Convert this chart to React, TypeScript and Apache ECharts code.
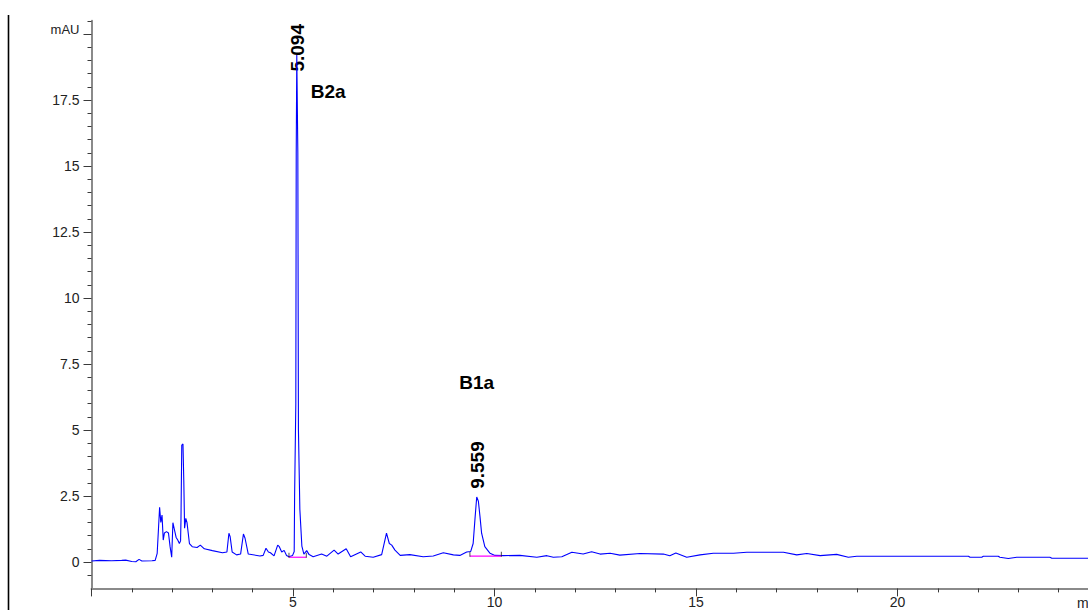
import React, { useEffect, useRef } from "react";
import * as echarts from "echarts";

// Retention time (min) and detector signal (mAU)
const times = [
  0.0, 0.2, 0.5, 0.75, 0.85, 1.0, 1.1, 1.18, 1.25, 1.5, 1.58, 1.63, 1.66, 1.69, 1.72, 1.75, 1.78, 1.81, 1.86, 1.91,
  1.95, 1.99, 2.02, 2.06, 2.1, 2.14, 2.18, 2.21, 2.22, 2.24, 2.27, 2.29, 2.31, 2.34, 2.37, 2.4, 2.43, 2.5, 2.62, 2.7,
  2.8, 3.0, 3.25, 3.36, 3.41, 3.44, 3.49, 3.6, 3.7, 3.77, 3.81, 3.89, 4.18, 4.26, 4.33, 4.39, 4.44, 4.53, 4.62, 4.66,
  4.72, 4.78, 4.84, 4.9, 4.99, 5.03, 5.04, 5.07, 5.08, 5.094, 5.12, 5.135, 5.17, 5.22, 5.27, 5.34, 5.4, 5.5, 5.71, 5.84,
  6.02, 6.12, 6.32, 6.43, 6.68, 6.79, 6.99, 7.2, 7.32, 7.39, 7.45, 7.53, 7.66, 7.9, 8.23, 8.48, 8.73, 8.98, 9.14, 9.31,
  9.41, 9.47, 9.52, 9.559, 9.6, 9.64, 9.68, 9.76, 9.89, 10.01, 10.22, 10.63, 11.05, 11.3, 11.46, 11.67, 11.92, 12.2, 12.41, 12.62,
  12.87, 13.11, 13.61, 14.19, 14.35, 14.5, 14.77, 15.1, 15.43, 15.93, 16.26, 17.17, 17.5, 17.75, 18.08, 18.49, 18.78, 18.99, 21.76, 21.8,
  22.09, 22.13, 22.5, 22.54, 22.75, 22.96, 23.78, 23.83, 25.0,
];
const signal = [
  0.04, 0.06, 0.05, 0.06, 0.07, 0.02, 0.01, 0.1, 0.04, 0.05, 0.06, 0.33, 1.2, 2.07, 1.5, 1.78, 0.83, 1.1, 1.15, 1.1,
  0.58, 0.18, 1.49, 1.21, 0.93, 0.83, 0.7, 0.8, 1.57, 4.43, 4.47, 3.1, 1.28, 1.65, 1.49, 1.1, 0.7, 0.58, 0.55, 0.64,
  0.5, 0.43, 0.35, 0.38, 1.09, 0.96, 0.38, 0.27, 0.3, 1.06, 0.9, 0.3, 0.23, 0.25, 0.52, 0.38, 0.35, 0.23, 0.64, 0.58,
  0.38, 0.44, 0.25, 0.2, 0.25, 0.4, 2.5, 6.0, 15.5, 19.2, 15.5, 5.0, 2.0, 0.6, 0.3, 0.43, 0.28, 0.2, 0.3, 0.22,
  0.45, 0.3, 0.5, 0.2, 0.38, 0.22, 0.18, 0.28, 1.09, 0.7, 0.64, 0.45, 0.25, 0.28, 0.2, 0.23, 0.35, 0.27, 0.25, 0.38,
  0.4, 0.7, 1.72, 2.46, 2.3, 1.72, 1.09, 0.58, 0.33, 0.25, 0.24, 0.25, 0.18, 0.24, 0.18, 0.2, 0.37, 0.3, 0.39, 0.3,
  0.33, 0.26, 0.32, 0.3, 0.24, 0.34, 0.18, 0.27, 0.33, 0.33, 0.37, 0.37, 0.27, 0.32, 0.24, 0.29, 0.18, 0.22, 0.22, 0.18,
  0.18, 0.22, 0.22, 0.18, 0.13, 0.18, 0.18, 0.14, 0.14,
];

// Identified peaks
const peakTimes = [5.094, 9.559];
const peakHeights = [19.2, 2.46];
const peakNames = ["B2a", "B1a"];
const peakRtLabels = ["5.094", "9.559"];

// Integration baselines: [start, end] times and baseline level
const baseStarts = [4.9, 9.39];
const baseEnds = [5.33, 10.17];
const baseLevels = [0.18, 0.22];

// Axis ticks
const yMajorTicks = [0, 2.5, 5, 7.5, 10, 12.5, 15, 17.5, 20];
const yMinorTicks = [
  -0.5, 0.5, 1, 1.5, 2, 3, 3.5, 4, 4.5, 5.5, 6, 6.5, 7, 8, 8.5, 9, 9.5, 10.5, 11, 11.5, 12, 13, 13.5, 14, 14.5,
  15.5, 16, 16.5, 17, 18, 18.5, 19, 19.5, 20.5,
];
const yUnit = "mAU";
const xUnit = "min";

export default function App() {
  const ref = useRef<HTMLDivElement>(null);

  useEffect(() => {
    const el = ref.current;
    if (!el) return;
    const chart = echarts.init(el, undefined, { renderer: "svg" });
    const font = "'Liberation Sans', Arial, sans-serif";
    const axisColor = "#8a8a8a";
    const tickColor = "#3a3a3a";
    const labelColor = "#222";

    const trace = times.map((t, i) => [t, signal[i]]);
    const baselineSeries = baseStarts.map((s, i) => ({
      type: "line",
      data: [
        [s, baseLevels[i]],
        [baseEnds[i], baseLevels[i]],
      ],
      showSymbol: false,
      lineStyle: { color: "#ff00ff", width: 1.2 },
      z: 3,
      silent: true,
    }));
    const tickMarks: number[][] = [];
    baseStarts.forEach((s, i) => {
      tickMarks.push([s, baseLevels[i]]);
      tickMarks.push([baseEnds[i], baseLevels[i]]);
    });

    chart.setOption({
      animation: false,
      grid: { left: 91.5, top: 20.8, width: 1007.5, height: 567.6, containLabel: false, outerBoundsMode: "none" },
      xAxis: {
        type: "value",
        min: 0,
        max: 25,
        interval: 5,
        axisLine: { onZero: false, lineStyle: { color: axisColor, width: 2 } },
        axisTick: { length: 8, lineStyle: { color: tickColor, width: 1 } },
        minorTick: { show: true, splitNumber: 5, length: 4, lineStyle: { color: tickColor, width: 1 } },
        splitLine: { show: false },
        minorSplitLine: { show: false },
        axisLabel: {
          margin: 7,
          fontSize: 14,
          fontFamily: font,
          color: labelColor,
          formatter: (v: number) => (v === 0 || v === 25 ? "" : String(v)),
        },
      },
      yAxis: [
        {
          type: "value",
          min: -1,
          max: 20.5,
          position: "left",
          axisLine: { show: true, onZero: false, lineStyle: { color: axisColor, width: 2 } },
          axisTick: { show: true, length: 8, customValues: yMajorTicks, lineStyle: { color: tickColor, width: 1 } },
          axisLabel: {
            customValues: yMajorTicks,
            margin: 12,
            fontSize: 14,
            fontFamily: font,
            color: labelColor,
            formatter: (v: number) => (v === 20 ? "{u|" + yUnit + "}" : String(v)),
            rich: { u: { fontSize: 13, fontFamily: font, color: labelColor, padding: [0, 0, 10, 0] } },
          },
          splitLine: { show: false },
        },
        {
          type: "value",
          min: -1,
          max: 20.5,
          position: "left",
          offset: 0,
          axisLine: { show: false, onZero: false },
          axisTick: { show: true, length: 4, customValues: yMinorTicks, lineStyle: { color: tickColor, width: 1 } },
          axisLabel: { show: false },
          splitLine: { show: false },
        },
      ],
      series: [
        {
          type: "line",
          name: "DAD",
          data: trace,
          showSymbol: false,
          lineStyle: { color: "#0000ff", width: 1.1 },
          z: 2,
          silent: true,
        },
        ...baselineSeries,
        {
          type: "scatter",
          data: tickMarks,
          symbol: "rect",
          symbolSize: [1, 5],
          symbolOffset: [0, -2],
          itemStyle: { color: "#222" },
          z: 4,
          silent: true,
        },
      ],
    });

    const gridTop = 20.8;
    const graphics: any[] = [
      {
        type: "line",
        shape: { x1: 8.5, y1: 15, x2: 8.5, y2: 610 },
        style: { stroke: "#000", lineWidth: 1.6 },
      },
      {
        type: "text",
        x: 1077,
        y: 595.5,
        style: { text: xUnit, fontSize: 14, fontFamily: font, fill: labelColor, align: "left", verticalAlign: "top" },
      },
    ];
    peakTimes.forEach((t, i) => {
      const p = chart.convertToPixel({ xAxisIndex: 0, yAxisIndex: 0 }, [t, peakHeights[i]]) as number[];
      const px = p[0];
      const py = p[1];
      graphics.push({
        type: "text",
        x: px + 0.5,
        y: Math.max(py - 32, gridTop + 27),
        rotation: Math.PI / 2,
        style: {
          text: peakRtLabels[i],
          fontSize: 19,
          fontWeight: "bold",
          fontFamily: font,
          fill: "#000",
          align: "center",
          verticalAlign: "middle",
        },
      });
      graphics.push({
        type: "text",
        x: i === 0 ? px + 14 : px,
        y: i === 0 ? py + 36 : py - 114.5,
        style: {
          text: peakNames[i],
          fontSize: 19,
          fontWeight: "bold",
          fontFamily: font,
          fill: "#000",
          align: i === 0 ? "left" : "center",
          verticalAlign: "middle",
        },
      });
    });
    chart.setOption({ graphic: graphics });

    return () => chart.dispose();
  }, []);

  return (
    <div
      ref={ref}
      style={{ position: "absolute", left: 0, top: 0, width: 1088, height: 610, background: "#fff" }}
    />
  );
}
